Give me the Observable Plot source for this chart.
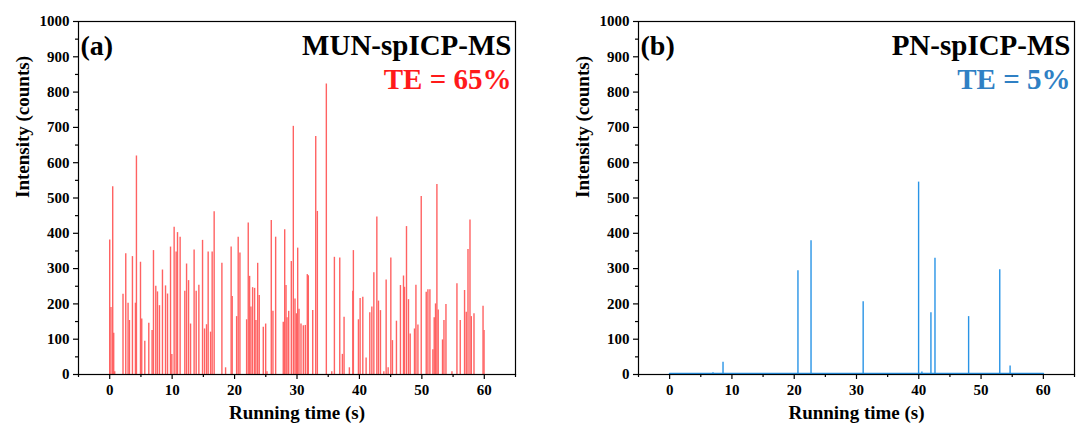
<!DOCTYPE html>
<html><head><meta charset="utf-8">
<script src="https://cdn.jsdelivr.net/npm/d3@7"></script>
<script src="https://cdn.jsdelivr.net/npm/@observablehq/plot@0.6"></script>
<style>
body{margin:0;background:#fff;}
#wrap{position:relative;width:1077px;height:430px;overflow:hidden;}
#a,#b{position:absolute;top:0;}
#a{left:0;} #b{left:538px;}
</style></head><body><div id="wrap"><div id="a"></div><div id="b"></div></div>
<script>
// ---- tick values ----
const xTicks = [0, 10, 20, 30, 40, 50, 60];
const xMinor = [-5, 5, 15, 25, 35, 45, 55, 65];
const yTicks = [0, 100, 200, 300, 400, 500, 600, 700, 800, 900, 1000];
const yMinor = [50, 150, 250, 350, 450, 550, 650, 750, 850, 950];

// ---- panel (a): MUN-spICP-MS spikes ----
const aTime = [0.0,0.2,0.48,0.64,0.8,2.13,2.57,2.94,3.16,3.64,4.12,4.28,4.93,5.13,5.62,6.26,6.79,7.01,7.38,7.65,7.97,8.45,8.94,9.26,9.74,9.95,10.32,10.64,10.86,11.28,12.03,12.31,12.63,12.95,13.52,13.85,14.28,14.87,15.19,15.51,15.77,16.16,16.41,16.73,17.97,18.56,19.45,19.62,20.33,20.58,20.86,21.93,22.19,22.41,22.62,22.89,23.21,23.42,23.7,23.95,24.6,24.98,25.19,25.88,26.15,26.58,27.8,28.03,28.24,28.4,28.67,29.09,29.41,29.68,29.89,30.11,30.32,30.64,31.01,31.33,31.65,31.81,32.52,33.0,33.26,34.7,35.57,35.99,36.85,37.27,37.54,38.39,38.94,39.03,39.84,40.11,40.54,41.07,41.66,41.99,42.31,42.79,43.05,43.37,43.91,44.28,44.6,45.03,45.29,45.93,46.57,47.06,47.22,47.54,47.86,48.13,48.82,49.05,49.37,49.9,50.7,50.97,51.29,51.77,51.98,52.19,52.41,52.62,53.31,53.54,53.86,54.82,55.62,56.15,56.84,57.11,57.39,57.71,57.92,58.35,59.8,59.96];
const aCounts = [381,190,532,117,8,227,342,202,153,334,202,619,318,157,94,145,125,351,250,234,195,296,251,228,361,57,417,347,402,389,236,313,266,143,353,236,253,380,129,141,347,120,347,461,315,19,361,221,164,389,344,155,429,278,191,246,244,153,315,224,134,143,8,436,179,389,148,410,252,161,179,320,703,214,172,358,185,143,138,139,283,280,181,674,462,823,8,332,330,57,162,19,236,351,155,215,219,47,175,191,288,446,208,181,8,268,19,330,96,151,252,279,247,419,212,115,129,253,140,504,233,240,240,70,161,200,538,183,98,153,198,8,257,153,238,176,354,438,164,172,193,125];

// ---- panel (b): PN-spICP-MS spikes ----
const bTime = [6.96, 8.57, 20.6, 22.7, 31.07, 39.97, 40.5, 41.95, 42.6, 48.0, 53.0, 54.66];
const bCounts = [5, 35, 294, 379, 206, 545, 7, 175, 329, 164, 297, 24];
const runRange = [0, 60];
const bBaseline = [3, 3];

const FONT = "'Liberation Serif','Times New Roman',serif";

function panel({width, marginLeft, marginRight, times, counts, color, tag, method, te, teColor, base}) {
  const spikes = times.map((t, i) => ({t, c: counts[i]}));
  const marks = [];
  if (base) {
    marks.push(Plot.line(runRange.map((t, i) => ({t, c: base[i]})), {x: "t", y: "c", stroke: color, strokeWidth: 1.6}));
  }
  marks.push(
    Plot.ruleX(spikes, {x: "t", y1: 0, y2: "c", stroke: color, strokeWidth: 1.4}),
    Plot.frame({stroke: "black", strokeWidth: 1.2}),
    Plot.axisX({ticks: xTicks, tickSize: 5, tickPadding: 5, tickFormat: d => String(d), label: null, fontSize: 15, strokeWidth: 1.2}),
    Plot.axisX({ticks: xMinor, tickSize: 3, text: null, label: null, strokeWidth: 1.2}),
    Plot.axisY({ticks: yTicks, tickSize: 5, tickPadding: 4, tickFormat: d => String(d), label: null, fontSize: 15, strokeWidth: 1.2}),
    Plot.axisY({ticks: yMinor, tickSize: 3, text: null, label: null, strokeWidth: 1.2}),
    Plot.text(["Running time (s)"], {frameAnchor: "bottom", dy: 44, fontSize: 19}),
    Plot.text(["Intensity (counts)"], {frameAnchor: "left", rotate: -90, dx: -56, fontSize: 19}),
    Plot.text([tag], {frameAnchor: "top-left", textAnchor: "start", dx: 2, dy: 14, fontSize: 28}),
    Plot.text([method], {frameAnchor: "top-right", textAnchor: "end", dx: -4, dy: 13, fontSize: 29}),
    Plot.text([te], {frameAnchor: "top-right", textAnchor: "end", dx: -4, dy: 47, fontSize: 29, fill: teColor})
  );
  return Plot.plot({
    width, height: 430,
    marginTop: 21, marginBottom: 56, marginLeft, marginRight,
    x: {domain: [-5, 65]},
    y: {domain: [0, 1000]},
    style: {fontFamily: FONT, fontWeight: "bold", fontSize: "15px", color: "black", background: "white", overflow: "visible"},
    marks
  });
}

document.getElementById("a").append(panel({
  width: 538, marginLeft: 78, marginRight: 23,
  times: aTime, counts: aCounts, color: "#ff6262",
  tag: "(a)", method: "MUN-spICP-MS", te: "TE = 65%", teColor: "#ff1a1a"
}));
document.getElementById("b").append(panel({
  width: 539, marginLeft: 100, marginRight: 3,
  times: bTime, counts: bCounts, color: "#2994e6",
  tag: "(b)", method: "PN-spICP-MS", te: "TE = 5%", teColor: "#2f80c4", base: bBaseline
}));
</script></body></html>
